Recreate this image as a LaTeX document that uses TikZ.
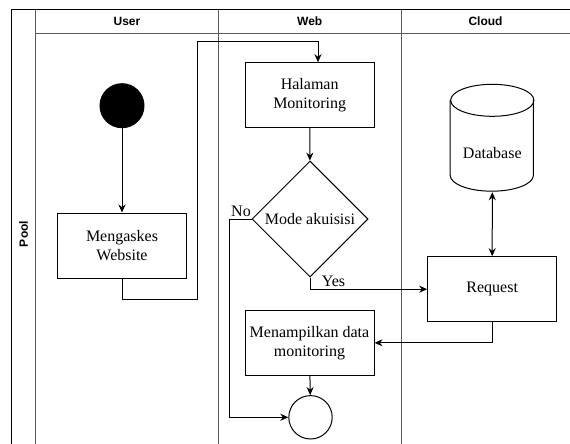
\documentclass[tikz,border=0pt]{standalone}
\usepackage{fontspec}
\setmainfont{Liberation Serif}
\setsansfont{Liberation Sans}
\usetikzlibrary{arrows.meta,shapes.geometric,positioning}

\begin{document}
\begin{tikzpicture}[x=1pt,y=-1pt,line width=1pt,
        >={Stealth[length=8pt,width=7pt]},
        box/.style={draw,minimum width=129pt,minimum height=65pt,align=center,
            font=\fontsize{16}{19}\selectfont},
        lane/.style={draw=black!65},
        head/.style={font=\sffamily\bfseries\fontsize{12}{14}\selectfont}]
        \useasboundingbox (0,0) rectangle (570,444);
        % pool and lanes
        \draw[lane] (35.7,444) -- (35.7,9.5);
        \draw[lane] (35.7,33.3) -- (570,33.3);
        \draw[lane] (218.5,444) -- (218.5,9.5);
        \draw[lane] (401,444) -- (401,9.5);
        \draw[line width=1.5pt] (11.5,444) -- (11.5,9.5) -- (570,9.5);
        \node[head,rotate=90] (pool) at (23.5,234){Pool};
        \node[head] (user) at (127,21.5){User};
        \node[head] (web) at (309.7,21.5){Web};
        \node[head] (cloud) at (485.5,21.5){Cloud};
        % nodes
        \node[draw,circle,fill=black,minimum size=44pt] (start) at (122,105.7){};
        \node[box] (akses) at (122,245.5){Mengaskes\\Website};
        \node[box] (halaman) at (309.7,95.2){Halaman\\Monitoring};
        \node[draw,diamond,aspect=1,inner sep=0pt,minimum size=116pt,
            font=\fontsize{16}{19}\selectfont] (mode) at (310,219){Mode akuisisi};
        \node[box] (tampil) at (309.5,342.8){Menampilkan data\\monitoring};
        \node[draw,circle,minimum size=43.4pt] (end) at (310.5,417.3){};
        \node[box] (request) at (492.2,289.2){Request};
        \node[minimum width=83.3pt,minimum height=107.4pt] (db) at (492.3,138){};
        \node[font=\fontsize{16}{19}\selectfont] (dbtext) at (492.3,153){Database};
        \draw (db.north west) ++(0,16) -- ++(0,75.4)
            arc[start angle=180,end angle=360,x radius=41.65pt,y radius=16pt] -- ++(0,-75.4);
        \draw (492.3,100.3) ellipse [x radius=41.65pt,y radius=16pt];
        % connectors
        \draw[->] (start) -- (akses);
        \draw[->] (akses.south) |- (197,299) |- (318,42) -- ([xshift=8.3pt]halaman.north);
        \draw[->] (halaman) -- (mode);
        \draw[->] (mode.south) |- (request.west);
        \draw[->] (mode.west) -- ++(-22.4,0) |- (end.west);
        \draw[<->] (db.south) -- (request.north);
        \draw[->] (request.south) |- (tampil.east);
        \draw[->] (tampil) -- (end);
        \node[anchor=west,font=\fontsize{16}{19}\selectfont] (yes) at (318,281){Yes};
        \node[font=\fontsize{16}{19}\selectfont] (no) at (241,211){No};
    \end{tikzpicture}
\end{document}
